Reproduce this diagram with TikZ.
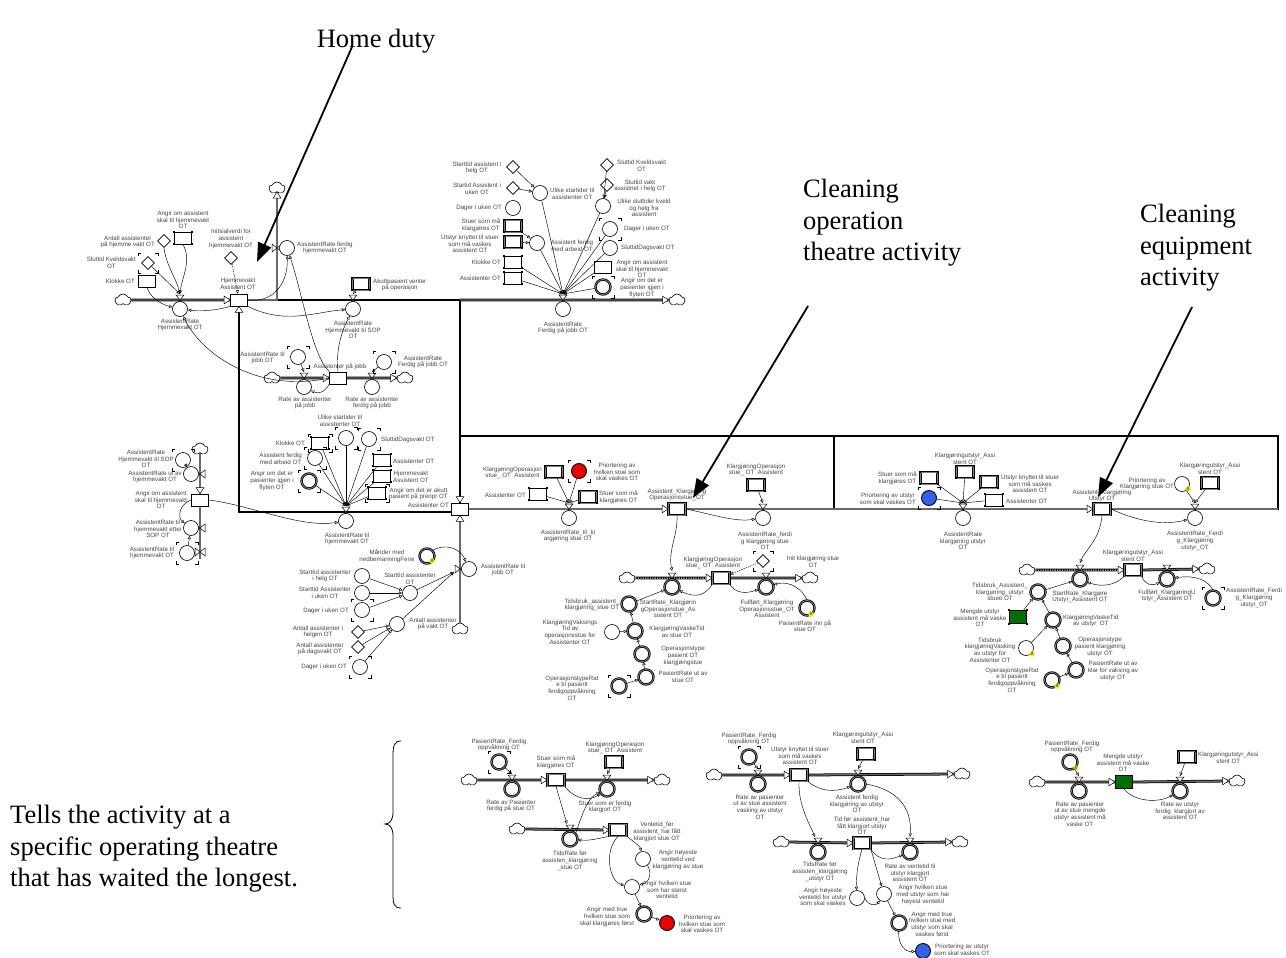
\documentclass[tikz,border=0pt]{standalone}
\usepackage{fontspec}
\setmainfont{Liberation Serif}
\newfontfamily\lblfam{Liberation Sans}
\usetikzlibrary{arrows.meta,shapes.geometric,shapes.symbols}

\definecolor{labc}{RGB}{70,70,70}
\definecolor{ringc}{RGB}{125,125,125}
\definecolor{pipec}{RGB}{105,105,105}
\definecolor{redv}{RGB}{236,0,0}
\definecolor{bluev}{RGB}{48,98,236}
\definecolor{greenv}{RGB}{0,110,0}
\definecolor{ydot}{RGB}{245,235,10}

\pgfdeclarelayer{bg}
\pgfdeclarelayer{mid}
\pgfsetlayers{bg,mid,main}

\newcommand\lblfont{\lblfam\fontsize{6.2}{6.7}\selectfont}
\newcounter{lc}
\newcommand\lab[3][center]{\stepcounter{lc}\node[lbl,anchor=#1] (lab\arabic{lc}) at (#2) {#3};}
% selection handles on the corners of a rectangle
\newcommand\hdl[1]{\foreach \cn in {north east,north west,south east,south west}{\fill (#1.\cn) ++(-1.1pt,-1.1pt) rectangle ++(2.2pt,2.2pt);}}
% corner brackets of a shadow variable
\newcommand\brk[3]{\foreach \sx in {-1,1}{\foreach \sy in {-1,1}{\draw[line width=0.5pt] ([shift={({\sx*(#2pt-3pt)},{\sy*#3pt})}]#1.center) -- ([shift={({\sx*#2pt},{\sy*#3pt})}]#1.center) -- ([shift={({\sx*#2pt},{\sy*(#3pt-3pt)})}]#1.center);}}}
% valves on horizontal and vertical pipes
\newcommand\valh[1]{\draw[valve] ([shift={(-4pt,5pt)}]#1) -- ([shift={(4pt,5pt)}]#1) -- ([shift={(-4pt,-5pt)}]#1) -- ([shift={(4pt,-5pt)}]#1) -- cycle;}
\newcommand\valv[1]{\draw[valve] ([shift={(-5pt,4pt)}]#1) -- ([shift={(-5pt,-4pt)}]#1) -- ([shift={(5pt,4pt)}]#1) -- ([shift={(5pt,-4pt)}]#1) -- cycle;}
\newcommand\ydt[2]{\node[ydotn] (#1) at (#2) {\#};}

\tikzset{
  lbl/.style={font=\lblfont, text=labc, align=center, inner sep=0pt},
  aux/.style={circle, draw, fill=white, minimum size=15pt, inner sep=0pt, line width=0.6pt},
  auxd/.style={aux, line width=0.75pt, double=ringc, double distance=0.9pt},
  stk/.style={rectangle, draw, fill=white, minimum width=17pt, minimum height=12pt, inner sep=0pt, line width=0.6pt},
  stkd/.style={stk, line width=0.75pt, double=ringc, double distance=0.9pt},
  cnst/.style={diamond, draw, fill=white, minimum size=13pt, inner sep=0pt, line width=0.6pt},
  cld/.style={cloud, cloud puffs=5, cloud puff arc=130, aspect=1.3, draw, fill=white, minimum width=16pt, minimum height=12pt, inner sep=0pt, line width=0.6pt},
  ydotn/.style={circle, fill=ydot, inner sep=0pt, minimum size=5.5pt, font=\lblfam\fontsize{4.5}{4.5}\selectfont},
  lnk/.style={line width=0.45pt, -{Triangle[open, length=3.4pt, width=3.2pt]}},
  dlnk/.style={lnk, dash pattern=on 1.4pt off 1pt},
  pipe/.style={draw=black, line width=0.75pt, double=pipec, double distance=1.3pt},
  conv/.style={draw=black, line width=2.8pt, postaction={draw=white, line width=1pt, dash pattern=on 1.2pt off 1.2pt}},
  boxln/.style={line width=2pt, line cap=rect},
  valve/.style={fill=white, line width=0.5pt, line join=miter},
  bigt/.style={font=\fontsize{26.5}{31.5}\selectfont, align=left, inner sep=0pt},
  bigarr/.style={line width=1.8pt, -{Triangle[length=19pt, width=14pt]}},
  ftip/.pic={\draw[fill=white, line width=0.5pt] (-6pt,-3.8pt) -- (0pt,0pt) -- (-6pt,3.8pt) -- cycle;}
}

\begin{document}
\begin{tikzpicture}[x=1pt,y=-1pt]
\begin{pgfonlayer}{bg}
\fill[white] (0,0) rectangle (1286,958);
\end{pgfonlayer}
\useasboundingbox (0,0) rectangle (1286,958);

% ================= home duty sector =================
\node[cld] (cA1) at (123,300) {};
\node[stk] (sHV) at (239,300) {};
\lab{238,284}{Hjemmevakt\\Assistent OT}
\node[aux] (rHV) at (180,309) {};
\coordinate (vHV) at (180,294);
\lab{180,325}{AssistentRate\\Hjemmevakt OT}
\node[cnst] (dInit) at (231,258) {};
\lab{231,239}{Initsialverdi for\\assistent\\hjemmevakt OT}
\node[cnst] (dAnt) at (164,241) {};
\lab[east]{155,242}{Antall assistenter\\på hjemme vakt OT}
\node[stk] (rAngir) at (183,238) {};
\hdl{rAngir}
\lab{183,220}{Angir om assistent\\skal til hjemmevakt\\OT}
\node[cnst] (dSlutt) at (148,263) {};
\brk{dSlutt}{10}{10}
\lab[east]{136,263}{Sluttid Kveldsvakt\\OT}
\node[stk] (rKlokke) at (147,281) {};
\lab[east]{135,281}{Klokke OT}
\node[cld] (cA2) at (277,188) {};
\node[aux] (rFHV) at (287,248) {};
\lab[west]{297,248}{AssistentRate ferdig\\hjemmevakt OT}
\node[stkd] (rAkutt) at (361,284) {};
\hdl{rAkutt}
\lab[west]{373,285}{Akuttpasient venter\\på operasjon}
\node[aux] (rSOP) at (353,309) {};
\coordinate (vSOP) at (353,294);
\lab{353,330}{AssistentRate\\Hjemmevakt til SOP\\OT}

% people at work
\node[aux] (rATJ) at (298,357) {};
\brk{rATJ}{11}{11}
\lab[east]{285,358}{AssistentRate til\\jobb OT}
\node[cld] (cB1) at (272,378) {};
\node[stk] (sAPJ) at (338,378) {};
\lab{340,367}{Assistenter på jobb}
\node[aux] (rRAPJ) at (304,387) {};
\coordinate (vRAPJ) at (304,372);
\lab{305,403}{Rate av assistenter\\på jobb}
\node[aux] (rRAFJ) at (372,387) {};
\coordinate (vRAFJ) at (372,372);
\lab{372,403}{Rate av assistenter\\ferdig på jobb}
\node[cld] (cB2) at (405,378) {};
\node[aux] (rAFJ) at (384,362) {};
\brk{rAFJ}{11}{11}
\lab{423,362}{AssistentRate\\Ferdig på jobb OT}

% rate to home duty and its inputs
\node[aux] (rATH) at (346,521) {};
\coordinate (vATH) at (346,506);
\lab{347,539}{AssistentRate til\\hjemmevakt OT}
\node[aux] (aUlike) at (346,438) {};
\brk{aUlike}{11}{11}
\lab{340,421}{Ulike startider til\\assistenter OT}
\node[stk] (rKlok2) at (320,443) {};
\hdl{rKlok2}
\brk{rKlok2}{12}{9}
\lab[east]{305,443}{Klokke OT}
\node[aux] (aAFA) at (315,458) {};
\brk{aAFA}{11}{11}
\lab[east]{302,459}{Assistent ferdig\\med arbeid OT}
\node[auxd] (aAP) at (309,481) {};
\brk{aAP}{11}{11}
\lab{272,481}{Angir om det er\\pasienter igjen i\\flyten OT}
\node[aux] (aSD) at (369,439) {};
\brk{aSD}{11}{11}
\lab[west]{381,440}{SluttidDagsvakt OT}
\node[stk] (rAss) at (382,460) {};
\hdl{rAss}
\lab[west]{393,461}{Assistenter OT}
\node[stk] (rHVA) at (382,476) {};
\hdl{rHVA}
\lab[west]{393,477}{Hjemmevakt\\Assistent OT}
\node[stk] (rAkP) at (377,493) {};
\hdl{rAkP}
\brk{rAkP}{12}{9}
\lab[west]{389,494}{Angir om det er akutt\\pasient på preopr OT}
\node[stk] (sAss) at (460,509) {};
\lab[east]{449,505}{Assistenter OT}

% rate to work
\node[auxd] (aMand) at (427,556) {};
\ydt{yMand}{432,561}
\lab{387,556}{Månder med\\nedbemanningFerie}
\node[aux] (rATJO) at (469,569) {};
\coordinate (vATJO) at (454,572);
\lab{503,570}{AssistentRate til\\jobb OT}
\node[cld] (cC1) at (460,629) {};
\node[aux] (aSTA) at (410,593) {};
\lab{410,579}{Starttid assistenter\\OT}
\node[aux] (aSTH) at (362,576) {};
\lab{325,576}{Starttid assistenter\\i helg OT}
\node[aux] (aSTU) at (362,593) {};
\lab{325,593}{Starttid Assistenter\\i uken OT}
\node[aux] (aDU1) at (362,610) {};
\brk{aDU1}{11}{11}
\lab[east]{349,611}{Dager i uken OT}
\node[aux] (aAPV) at (397,624) {};
\lab{433,624}{Antall assistenter\\på vakt OT}
\node[cnst] (dAIH) at (358,632) {};
\lab{318,632}{Antall assistenter i\\helgen OT}
\node[cnst] (dAPD) at (358,647) {};
\lab{320,649}{Antall assistenter\\på dagsvakt OT}
\node[aux] (aDU2) at (360,667) {};
\brk{aDU2}{11}{11}
\lab[east]{347,667}{Dager i uken OT}

% home duty chain on the left
\node[cld] (cD1) at (200,449) {};
\node[aux] (aHSOP) at (183,460) {};
\brk{aHSOP}{11}{11}
\lab{146,459}{AssistentRate\\Hjemmevakt til SOP\\OT}
\node[aux] (rUtHV) at (191,474) {};
\lab{155,477}{AssistentRate ut av\\hjemmevakt OT}
\node[stk] (sAngir2) at (200,500) {};
\lab{161,500}{Angir om assistent\\skal til hjemmevakt\\OT}
\node[aux] (rTHES) at (191,528) {};
\lab{158,529}{AssistentRate til\\hjemmevakt etter\\SOP OT}
\node[aux] (aTHV) at (187,553) {};
\brk{aTHV}{11}{11}
\lab{152,553}{AssistentRate til\\hjemmevakt OT}
\coordinate (kD1) at (200,559);

% ================= end of work =================
\node[cnst] (dSAH) at (513,167) {};
\lab{477,168}{Starttid assistent i\\helg OT}
\node[cnst] (dSAU) at (513,188) {};
\lab{477,189}{Startid Assistent i\\uken OT}
\node[aux] (aDU3) at (513,208) {};
\lab[east]{502,208}{Dager i uken OT}
\node[aux] (aUST) at (540,193) {};
\lab[west]{550,194}{Ulike startider til\\assistenter OT}
\node[stkd] (rStuer1) at (513,226) {};
\hdl{rStuer1}
\lab{481,225}{Stuer som må\\klargjøres OT}
\node[stkd] (rUtstyr1) at (513,242) {};
\hdl{rUtstyr1}
\lab{470,244}{Utstyr knyttet til stuer\\som må vaskes\\assistent OT}
\node[aux] (aAFA2) at (537,243) {};
\lab{572,246}{Assistent ferdig\\med arbeid OT}
\node[stk] (rKlok3) at (513,262) {};
\hdl{rKlok3}
\lab[east]{501,262}{Klokke OT}
\node[stk] (rAss3) at (513,278) {};
\hdl{rAss3}
\lab[east]{501,278}{Assistenter OT}
\node[aux] (rAFJ2) at (563,309) {};
\coordinate (vAFJ2) at (563,294);
\lab{563,328}{AssistentRate\\Ferdig på jobb OT}
\node[cld] (cE1) at (677,300) {};
\node[cnst] (dSK) at (607,165) {};
\lab[west]{617,166}{Sluttid Kveldsvakt\\OT}
\node[cnst] (dSVH) at (607,185) {};
\lab{640,186}{Sluttid vakt\\assistnet i helg OT}
\node[aux] (aUSK) at (603,206) {};
\lab{644,208}{Ulike sluttider kveld\\og helg fra\\assistent}
\node[aux] (aDU4) at (610,229) {};
\brk{aDU4}{11}{11}
\lab[west]{624,229}{Dager i uken OT}
\node[aux] (aSDV) at (610,248) {};
\lab[west]{621,248}{SluttidDagsvakt OT}
\node[stk] (rAng3) at (603,267) {};
\lab{642,269}{Angir om assistent\\skal til hjemmevakt\\OT}
\node[auxd] (aAP3) at (603,287) {};
\brk{aAP3}{11}{11}
\lab{642,288}{Angir om det er\\pasienter igjen i\\flyten OT}

% ================= cleaning operating theatres =================
\node[stkd] (rKOS1) at (554,472) {};
\hdl{rKOS1}
\lab[east]{542,473}{KlargjøringOperasjon\\stue\_ OT~ Assistent}
\node[aux,fill=redv,line width=0.9pt] (aPri1) at (579,471) {};
\brk{aPri1}{11}{11}
\lab{617,472}{Priortering av\\hvilken stue som\\skal vaskes OT}
\node[stk] (rAss4) at (538,494) {};
\hdl{rAss4}
\lab[east]{526,495}{Assistenter OT}
\node[stkd] (rStuer2) at (588,497) {};
\hdl{rStuer2}
\lab[west]{599,497}{Stuer som må\\klargjøres OT}
\node[aux] (rATK) at (569,518) {};
\coordinate (vATK) at (569,503);
\lab{568,536}{AssistentRate\_til\_kl\\argjøring stue OT}
\node[stkd] (sAK) at (677,509) {};
\lab{677,495}{Assistent\_Klargjøring\\Operasjonsstue\_OT}
\node[stkd] (rKOS2) at (756,485) {};
\hdl{rKOS2}
\lab{756,470}{KlargjøringOperasjon\\stue\_ OT~ Assistent}
\node[aux] (rAFK) at (763,518) {};
\coordinate (vAFK) at (763,503);
\lab{765,541}{AssistentRate\_ferdi\\g klargjøring stue\\OT}

\node[cld] (cG1) at (627,578) {};
\node[auxd] (rSRK) at (672,587) {};
\coordinate (vSRK) at (672,571);
\lab{668,609}{StartRate\_Klargjørin\\gOperasjonstue\_As\\sistent OT}
\node[stkd] (sAK2) at (721,578) {};
\lab{713,563}{KlargjøringOperasjon\\stue\_ OT~ Assistent}
\node[auxd] (rFK) at (766,587) {};
\lab{767,609}{Fullført\_Klargjøring\\Operasjonsstue\_OT\\Assistent}
\node[cld] (cG2) at (810,578) {};
\node[cnst] (dInit2) at (763,561) {};
\brk{dInit2}{10}{10}
\lab{813,562}{Init klargjøring stue\\OT}
\node[auxd] (aPIS) at (807,608) {};
\ydt{yPIS}{811,614}
\lab{805,626}{PaisentRate inn på\\stue OT}
\node[auxd] (aTAK) at (629,604) {};
\lab{592,605}{Tidsbruk\_assistent\_\\klargjøring\_stue OT}
\node[aux] (aKVST) at (612,632) {};
\lab{570,632}{KlargjøringVaksings\\Tid av\\operasjonsstue for\\Assistenter OT}
\node[auxd] (aKVT) at (635,631) {};
\lab{677,632}{KlargjøringVaskeTid\\av stue OT}
\node[auxd] (aOPT) at (642,654) {};
\lab{683,656}{Operasjonstype\\pasient OT\\klargjøingstue}
\node[auxd] (aPRU) at (646,677) {};
\lab{683,677}{PasientRate ut av\\stue OT}
\node[auxd] (aOTR) at (619,686) {};
\brk{aOTR}{11}{11}
\lab{572,688}{OperasjonstypeRat\\e til pasient\\ferdigoppvåkning\\OT}

% ================= cleaning equipment =================
\node[stkd] (rStuer3) at (929,478) {};
\hdl{rStuer3}
\lab[east]{917,478}{Stuer som må\\klargjøres OT}
\node[aux,fill=bluev,line width=0.9pt] (aPri2) at (929,498) {};
\brk{aPri2}{11}{11}
\lab[east]{916,499}{Priortering av utstyr\\som skal vaskes OT}
\node[stkd] (rKU1) at (965,472) {};
\hdl{rKU1}
\lab{965,459}{Klargjøringutstyr\_Assi\\stent OT}
\node[stkd] (rUK2) at (989,482) {};
\hdl{rUK2}
\lab[west]{1001,484}{Utstyr knyttet til stuer\\som må vaskes\\assistent OT}
\node[stk] (rAss5) at (994,500) {};
\hdl{rAss5}
\lab[west]{1006,501}{Assistenter OT}
\node[aux] (rAKU) at (963,518) {};
\coordinate (vAKU) at (963,503);
\lab{963,541}{AssistentRate\\klargjøring utstyr\\OT}
\node[stkd] (sAKU) at (1102,509) {};
\lab{1102,496}{Assistent\_Klargjøring\\Utstyr OT}
\node[aux] (aPKS) at (1182,484) {};
\ydt{yPKS}{1188,489}
\lab{1147,484}{Priortering av\\Klargjøring stue OT}
\node[stkd] (rKU2) at (1210,483) {};
\hdl{rKU2}
\lab{1210,469}{Klargjøringutstyr\_Assi\\stent OT}
\node[aux] (rAFKU) at (1195,518) {};
\coordinate (vAFKU) at (1195,503);
\lab{1195,541}{AssistentRate\_Ferdi\\g\_Klargjøring\\utstyr\_OT}

\node[cld] (cI1) at (1027,570) {};
\node[auxd] (rSRKU) at (1080,579) {};
\coordinate (vSRKU) at (1080,563);
\lab{1080,597}{StartRate\_Klargjøre\\Utstyr\_Assistent OT}
\node[stkd] (sKU3) at (1133,570) {};
\lab{1133,556}{Klargjøringutstyr\_Assi\\stent OT}
\node[auxd] (rFKU) at (1167,579) {};
\lab{1167,596}{Fullført\_KlargjøringU\\tstyr\_Assistent OT}
\node[cld] (cI2) at (1207,569) {};
\node[auxd] (aAFKU2) at (1213,598) {};
\brk{aAFKU2}{11}{11}
\lab[west]{1226,598}{AssistentRate\_Ferdi\\g\_Klargjøring\\utstyr\_OT}
\node[auxd] (aTAKU) at (1038,592) {};
\lab{1000,592}{Tidsbruk\_Assistent\_\\klargjøring\_utstyr\\stueö OT}
\node[stk,fill=greenv,line width=1.2pt,minimum height=13pt] (rMU) at (1018,617) {};
\hdl{rMU}
\lab{980,618}{Mengde utstyr\\assistent må vaske\\OT}
\node[auxd] (aKVTU) at (1053,620) {};
\lab[west]{1063,621}{KlargjøringVaskeTid\\av utstyr~ OT}
\node[aux] (aTKVU) at (1026,648) {};
\ydt{yTKVU}{1032,654}
\lab{990,650}{Tidsbruk\\klargjøringVasking\\av utstyr for\\Assistenter OT}
\node[auxd] (aOPTU) at (1063,646) {};
\lab{1100,647}{Operasjonstype\\pasient klargjøring\\utstyr OT}
\node[auxd] (aPRUU) at (1076,670) {};
\lab{1113,671}{PasientRate ut av\\klar for vaksing av\\utstyr OT}
\node[auxd] (aOTRU) at (1052,680) {};
\ydt{yOTRU}{1057,686}
\lab{1012,680}{OperasjonstypeRat\\e til pasient\\ferdigoppvåkning\\OT}

% ================= waiting time: theatres =================
\node[auxd] (aPRF1) at (499,762) {};
\brk{aPRF1}{11}{11}
\lab{499,745}{PasientRate\_Ferdig\\oppvåkning OT}
\node[cld] (cJ1) at (469,780) {};
\node[auxd] (rRAP) at (512,789) {};
\coordinate (vRAP) at (512,774);
\lab{511,806}{Rate av Pasienter\\ferdig på stue OT}
\node[stkd] (sSMK) at (556,780) {};
\lab{556,762}{Stuer som må\\klargjøres OT}
\node[stkd] (rKOS3) at (614,762) {};
\hdl{rKOS3}
\lab{615,748}{KlargjøringOperasjon\\stue\_ OT~ Assistent}
\node[auxd] (rSEF) at (607,789) {};
\coordinate (vSEF) at (607,774);
\lab{605,807}{Stuer som er ferdig\\klargjort OT}
\node[cld] (cJ2) at (662,780) {};
\node[cld] (cJ3) at (517,829) {};
\node[auxd] (rTRS) at (570,839) {};
\coordinate (vTRS) at (567,824);
\lab{570,861}{TidsRate før\\assisten\_klargjøring\\\_stue OT}
\node[stkd] (sVS) at (618,830) {};
\lab{657,832}{Ventetid\_før\\assistent\_har fått\\klargjort stue OT}
\node[aux] (aAHV) at (643,859) {};
\lab{678,860}{Angir høyeste\\ventetid ved\\klargjøring av stue}
\node[aux] (aAHS) at (632,887) {};
\lab{667,890}{Angir hvilken stue\\som har størst\\ventetid}
\node[auxd] (aAMT) at (644,914) {};
\lab{607,917}{Angir med true\\hvilken stue som\\skal klargjøres først}
\node[aux,fill=redv,line width=0.9pt] (aPri3) at (667,923) {};
\lab{702,924}{Priortering av\\hvilken stue som\\skal vaskes OT}

% ================= waiting time: equipment =================
\node[auxd] (aPRF2) at (749,757) {};
\brk{aPRF2}{11}{11}
\lab{749,739}{PasientRate\_Ferdig\\oppvåkning OT}
\node[cld] (cK1) at (714,775) {};
\node[auxd] (rRAPU) at (758,784) {};
\coordinate (vRAPU) at (758,769);
\lab{760,807}{Rate av pasienter\\ut av stue assistent\\vasking av utstyr\\OT}
\node[stkd] (sUK) at (799,775) {};
\lab{800,756}{Utstyr knyttet til stuer\\som må vaskes\\assistent OT}
\node[stkd] (rKU4) at (866,754) {};
\hdl{rKU4}
\lab{863,738}{Klargjøringutstyr\_Assi\\stent OT}
\node[auxd] (rAFKU3) at (858,784) {};
\coordinate (vAFKU3) at (858,769);
\lab{857,804}{Assistent ferdig\\klargjøring av utstyr\\OT}
\node[cld] (cK2) at (962,774) {};
\node[cld] (cK3) at (781,842) {};
\node[auxd] (rTRU) at (818,852) {};
\coordinate (vTRU) at (815,837);
\lab{820,872}{TidsRate før\\assisten\_klargjøring\\\_utstyr OT}
\node[stkd] (sTU) at (862,843) {};
\lab{862,826}{Tid før assistent\_har\\fått klargjort utstyr\\OT}
\node[auxd] (rRVU) at (910,852) {};
\coordinate (vRVU) at (910,837);
\lab{910,873}{Rate av ventetid til\\utstyr klargjort\\assistent OT}
\node[cld] (cK4) at (960,842) {};
\node[aux] (aAHVU) at (857,898) {};
\lab{823,897}{Angir høyeste\\ventetid for utstyr\\som skal vaskes}
\node[aux] (aAHSU) at (884,894) {};
\lab{923,895}{Angir hvilken stue\\med utstyr som har\\høyest ventetid}
\node[auxd] (aAMTU) at (899,923) {};
\lab{932,924}{Angir med true\\hvilken stue med\\utstyr som skal\\vaskes først}
\node[aux,fill=bluev,line width=0.9pt] (aPri4) at (923,951) {};
\lab[west]{934,950}{Priortering av utstyr\\som skal vaskes OT}

% ================= amount of equipment =================
\node[auxd] (aPRF3) at (1070,762) {};
\ydt{yPRF3}{1076,768}
\lab{1072,747}{PasientRate\_Ferdig\\oppvåkning OT}
\node[cld] (cL1) at (1037,782) {};
\node[auxd] (rRAPM) at (1079,791) {};
\coordinate (vRAPM) at (1079,776);
\lab{1080,814}{Rate av pasienter\\ut av stue mengde\\utstyr assistent må\\vaske OT}
\node[stk,fill=greenv,line width=1.2pt,minimum height=13pt] (sMU) at (1124,782) {};
\lab{1123,763}{Mengde utstyr\\assistent må vaske\\OT}
\node[stkd] (rKU5) at (1187,757) {};
\hdl{rKU5}
\lab[west]{1198,758}{Klargjøringutstyr\_Assi\\stent OT}
\node[auxd] (rRUF) at (1180,791) {};
\coordinate (vRUF) at (1180,776);
\lab{1180,811}{Rate av utstyr\\ferdig~ klargjort av\\assistent OT}
\node[cld] (cL2) at (1237,781) {};

% corners of the activity frames
\coordinate (kTop) at (460,300);
\coordinate (kM1) at (460,436);
\coordinate (kM2) at (834,436);
\coordinate (kM3) at (834,509);
\coordinate (kR2) at (1278,436);
\coordinate (kR3) at (1278,509);

% ================= pipes and frames =================
\begin{pgfonlayer}{bg}
\draw[boxln] (sHV.east) -| (sAss.north);
\draw[boxln] ([yshift=3pt]sAss.south west) -| (sHV.south);
\draw[boxln] (kM1) -- (kR2) -- (kR3);
\draw[boxln] (kM2) -- (kM3);
\draw[pipe] (cA1.east) -- (sHV.west);
\draw[pipe] (sHV.east) -| (cA2.south);
\draw[pipe] (kTop) -- (cE1.west);
\draw[pipe] (cB1.east) -- (sAPJ.west);
\draw[pipe] (sAPJ.east) -- (cB2.west);
\draw[pipe] (cC1.north) -- (sAss.south);
\draw[pipe] (cD1.south) -- (sAngir2.north);
\draw[pipe] (sAngir2.south) -- (kD1);
\draw[pipe] (sAss.east) -- (sAK.west);
\draw[pipe] (sAK.east) -- (kM3) -- (sAKU.west);
\draw[pipe] (sAKU.east) -- (kR3);
\draw[conv] (cG1.east) -- (sAK2.west);
\draw[pipe] (sAK2.east) -- (cG2.west);
\draw[conv] (cI1.east) -- (sKU3.west);
\draw[pipe] (sKU3.east) -- (cI2.west);
\draw[pipe] (cJ1.east) -- (sSMK.west);
\draw[pipe] (sSMK.east) -- (cJ2.west);
\draw[pipe] (cJ3.east) -- (sVS.west);
\draw[pipe] (cK1.east) -- (sUK.west);
\draw[pipe] (sUK.east) -- (cK2.west);
\draw[pipe] (cK3.east) -- (sTU.west);
\draw[pipe] (sTU.east) -- (cK4.west);
\draw[pipe] (cL1.east) -- (sMU.west);
\draw[pipe] (sMU.east) -- (cL2.west);
\end{pgfonlayer}

% ================= valves and pipe heads =================
\begin{pgfonlayer}{mid}
\foreach \p in {{180,300},{353,300},{563,300},{304,378},{372,378},{346,512},{569,509},{763,509},{963,509},{1195,509},{672,578},{766,578},{1080,570},{1167,570},{512,780},{607,780},{570,830},{758,775},{858,775},{818,843},{910,843},{1079,782},{1180,782}} {\valh{\p}}
\foreach \p in {{277,248},{460,569},{200,474},{200,528},{200,552}} {\valv{\p}}
\pic at (sHV.west) {ftip};
\pic[rotate=90] at (cA2.south) {ftip};
\pic[rotate=90] at (sHV.south) {ftip};
\pic[rotate=-90] at (sAss.north) {ftip};
\pic[rotate=90] at (sAss.south) {ftip};
\pic at (cE1.west) {ftip};
\pic at (sAPJ.west) {ftip};
\pic at (cB2.west) {ftip};
\pic[rotate=-90] at (sAngir2.north) {ftip};
\pic at (sAK.west) {ftip};
\pic at (sAKU.west) {ftip};
\pic at (sAK2.west) {ftip};
\pic at (cG2.west) {ftip};
\pic at (sKU3.west) {ftip};
\pic at (cI2.west) {ftip};
\pic at (sSMK.west) {ftip};
\pic at (cJ2.west) {ftip};
\pic at (sVS.west) {ftip};
\pic at (sUK.west) {ftip};
\pic at (cK2.west) {ftip};
\pic at (sTU.west) {ftip};
\pic at (cK4.west) {ftip};
\pic at (sMU.west) {ftip};
\pic at (cL2.west) {ftip};
\end{pgfonlayer}

% ================= information links =================
\draw[dlnk] (dInit) -- (sHV);
\draw[lnk] (rAngir.south) .. controls (192,262) and (182,276) .. (vHV);
\draw[lnk] (dAnt.south) .. controls (166,265) and (176,278) .. (vHV);
\draw[lnk] (dSlutt) -- (vHV);
\draw[lnk] (rKlokke.south) .. controls (150,297) and (160,304) .. (rHV);
\draw[lnk] (sHV.south west) .. controls (222,309) and (205,312) .. (rHV);
\draw[lnk] (sHV.east) .. controls (272,303) and (288,285) .. (rFHV);
\draw[lnk] (sHV.south east) .. controls (285,325) and (315,312) .. (rSOP);
\draw[lnk] (rAkutt) -- (vSOP);

\draw[lnk] (rATJ) -- (vRAPJ);
\draw[lnk] (rAFJ) -- (vRAFJ);
\draw[lnk] (sAPJ.south west) .. controls (324,393) and (318,394) .. (rRAPJ);
\draw[lnk] (sAPJ.west) .. controls (255,394) and (200,352) .. (rHV);
\draw[lnk] (sAPJ.north west) .. controls (312,355) and (302,292) .. (rFHV);
\draw[lnk] (sAPJ.north) .. controls (336,352) and (340,335) .. (rSOP);
\foreach \s in {aUlike,rKlok2,aAFA,aAP,aSD,rAss,rHVA,rAkP} {\draw[lnk] (\s) -- (vATH);}
\draw[lnk] (sAngir2.east) .. controls (250,505) and (300,528) .. (rATH);

\draw[lnk] (aSTH) -- (aSTA);
\draw[lnk] (aSTU) -- (aSTA);
\draw[lnk] (aDU1) -- (aSTA);
\draw[lnk] (aSTA) -- (vATJO);
\draw[lnk] (dAIH) -- (aAPV);
\draw[lnk] (dAPD) -- (aAPV);
\draw[lnk] (aDU2) -- (aAPV);
\draw[lnk] (aAPV) -- (vATJO);
\draw[lnk] (aMand.north east) .. controls (445,543) and (460,548) .. (rATJO);

\draw[lnk] (aHSOP) -- (rUtHV);
\draw[lnk] (sAngir2.west) .. controls (178,505) and (178,518) .. (rTHES);
\draw[lnk] (aTHV) -- (rTHES);

\draw[lnk] (dSAH) -- (aUST);
\draw[lnk] (dSAU) -- (aUST);
\draw[lnk] (rStuer1) -- (aAFA2);
\draw[lnk] (rUtstyr1) -- (aAFA2);
\draw[lnk] (dSK) -- (aUSK);
\draw[lnk] (dSVH) -- (aUSK);
\foreach \s in {aUST,aAFA2,rKlok3,rAss3,aUSK,aDU4,aSDV,rAng3,aAP3} {\draw[lnk] (\s) -- (vAFJ2);}

\draw[lnk] (rKOS1) -- (vATK);
\draw[lnk] (aPri1) -- (vATK);
\draw[lnk] (rAss4) -- (vATK);
\draw[lnk] (rStuer2) -- (vATK);
\draw[lnk] (rKOS2) -- (vAFK);
\draw[lnk] (sAK.east) .. controls (715,515) and (735,522) .. (rAFK);

\draw[lnk] (sAK.south) .. controls (678,535) and (668,550) .. (vSRK);
\draw[dlnk] (dInit2) -- (sAK2);
\draw[lnk] (sAK2.south east) .. controls (735,593) and (745,594) .. (rFK);
\draw[lnk] (aPIS.north) .. controls (803,590) and (790,580) .. (rFK);
\draw[lnk] (sAK2.south west) .. controls (705,596) and (695,598) .. (rSRK);
\draw[lnk] (aTAK) -- (rSRK);
\draw[lnk] (aKVST) -- (aKVT);
\draw[lnk] (aKVT) -- (aTAK);
\draw[lnk] (aOPT) -- (aKVT);
\draw[lnk] (aPRU) -- (aOPT);
\draw[lnk] (aOTR) -- (aPRU);

\foreach \s in {rStuer3,aPri2,rKU1,rUK2,rAss5} {\draw[lnk] (\s) -- (vAKU);}
\draw[lnk] (aPKS) -- (vAFKU);
\draw[lnk] (rKU2) -- (vAFKU);
\draw[lnk] (sAKU.east) .. controls (1135,520) and (1160,526) .. (rAFKU);

\draw[lnk] (sAKU.south) .. controls (1100,540) and (1085,550) .. (vSRKU);
\draw[lnk] (sKU3.south east) .. controls (1145,585) and (1152,586) .. (rFKU);
\draw[lnk] (aAFKU2.north) .. controls (1208,580) and (1195,575) .. (rFKU);
\draw[lnk] (sKU3.south west) .. controls (1115,586) and (1100,587) .. (rSRKU);
\draw[lnk] (aTAKU) -- (rSRKU);
\draw[lnk] (rMU) -- (aTAKU);
\draw[lnk] (aKVTU) -- (aTAKU);
\draw[lnk] (aTKVU) -- (aKVTU);
\draw[lnk] (aOPTU) -- (aKVTU);
\draw[lnk] (aPRUU) -- (aOPTU);
\draw[lnk] (aOTRU) -- (aPRUU);

\draw[lnk] (aPRF1) -- (vRAP);
\draw[lnk] (rKOS3) -- (vSEF);
\draw[lnk] (sSMK.south east) .. controls (575,800) and (590,801) .. (rSEF);
\draw[lnk] (sSMK.south) -- (vTRS);
\draw[lnk] (rTRS.north east) .. controls (585,805) and (590,797) .. (rSEF);
\draw[lnk] (sVS.south west) .. controls (600,838) and (590,841) .. (rTRS);
\draw[lnk] (sVS.south east) .. controls (634,842) and (640,846) .. (aAHV);
\draw[lnk] (sVS.south) .. controls (603,852) and (610,882) .. (aAHS);
\draw[lnk] (aAHV) .. controls (652,872) and (650,882) .. (aAHS);
\draw[lnk] (aAHS) -- (aAMT);
\draw[lnk] (aAMT) -- (aPri3);

\draw[lnk] (aPRF2) -- (vRAPU);
\draw[lnk] (rKU4) -- (vAFKU3);
\draw[lnk] (sUK.south east) .. controls (820,792) and (835,792) .. (rAFKU3);
\draw[lnk] (sUK.south) .. controls (798,805) and (810,825) .. (vTRU);
\draw[lnk] (rAFKU3.east) .. controls (900,790) and (912,810) .. (vRVU);
\draw[lnk] (sTU.south east) .. controls (880,862) and (890,860) .. (rRVU);
\draw[lnk] (sTU.south) .. controls (858,862) and (856,876) .. (aAHVU);
\draw[lnk] (sTU.south east) -- (aAHSU);
\draw[lnk] (aAHVU.east) .. controls (868,906) and (876,906) .. (aAHSU);
\draw[lnk] (aAHSU) -- (aAMTU);
\draw[lnk] (aAMTU) .. controls (898,945) and (905,952) .. (aPri4);

\draw[lnk] (aPRF3) -- (vRAPM);
\draw[lnk] (rKU5) -- (vRUF);
\draw[lnk] (sMU.south) .. controls (1135,802) and (1158,803) .. (rRUF);

% ================= annotations =================
\node[bigt] (tHome) at (376,41) {Home duty};
\coordinate (hA) at (352,47);
\coordinate (hB) at (257,262);
\draw[bigarr] (hA) -- (hB);
\node[bigt,anchor=west] (tClean) at (803,223) {Cleaning\\operation\\theatre activity};
\coordinate (cA) at (808,306);
\coordinate (cB) at (693,498);
\draw[bigarr] (cA) -- (cB);
\node[bigt,anchor=west] (tEquip) at (1140,248) {Cleaning\\equipment\\activity};
\coordinate (eA) at (1192,307);
\coordinate (eB) at (1098,497);
\draw[bigarr] (eA) -- (eB);
\node[bigt,anchor=west] (tTells) at (10,849) {Tells the activity at a\\specific operating theatre\\that has waited the longest.};
\draw[line width=0.8pt] (401,741) .. controls (394,741) and (393,746) .. (393,756) -- (393,812) .. controls (393,820) and (390,824) .. (385,824) .. controls (390,824) and (393,828) .. (393,836) -- (393,894) .. controls (393,904) and (394,908) .. (401,908);
\end{tikzpicture}
\end{document}
